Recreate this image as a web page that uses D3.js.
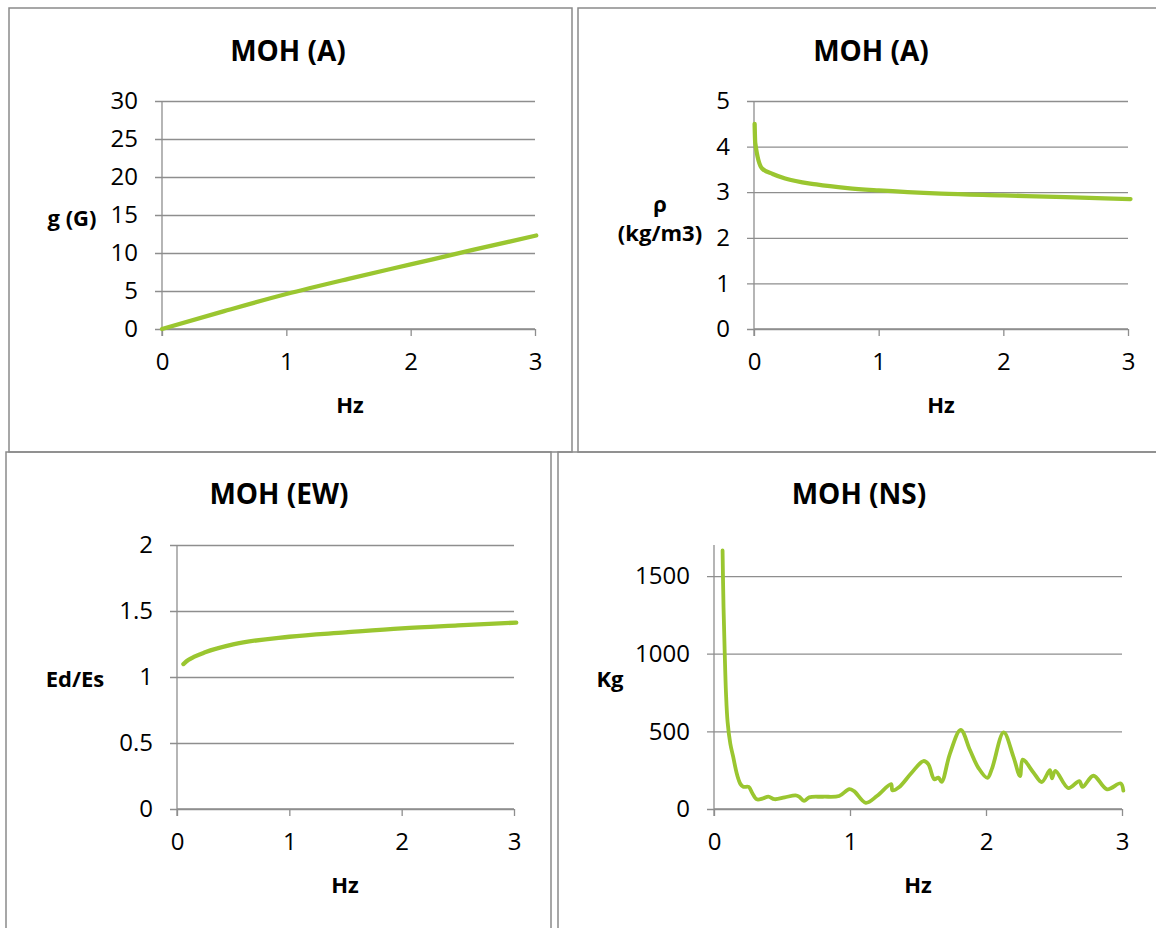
<!DOCTYPE html>
<html>
<head>
<meta charset="utf-8">
<script src="https://cdn.jsdelivr.net/npm/d3@7/dist/d3.min.js"></script>
<style>
  html, body { margin: 0; padding: 0; background: #fff; }
  svg { display: block; font-family: "Open Sans", "Lato", sans-serif; }
</style>
</head>
<body>
<svg id="chart" width="1156" height="928"></svg>
<script>
// ---------- DATA ----------
const xTicks = [0, 1, 2, 3];

// Panel 1: MOH (A), g (G) vs Hz
const gHz  = [0, 0.5, 1, 1.5, 2, 2.5, 3.01];
const gVal = [0, 2.35, 4.6, 6.6, 8.5, 10.4, 12.3];
const gTicks = [0, 5, 10, 15, 20, 25, 30];

// Panel 2: MOH (A), rho vs Hz
const rhoHz  = [0.005, 0.01, 0.065, 0.15, 0.25, 0.5, 0.75, 1, 1.5, 2, 2.5, 3.02];
const rhoVal = [4.5, 4.08, 3.52, 3.4, 3.3, 3.17, 3.09, 3.04, 2.97, 2.93, 2.89, 2.85];
const rhoTicks = [0, 1, 2, 3, 4, 5];

// Panel 3: MOH (EW), Ed/Es vs Hz
const edHz  = [0.057, 0.1, 0.15, 0.25, 0.5, 1, 1.5, 2, 2.5, 3.02];
const edVal = [1.098, 1.128, 1.152, 1.187, 1.247, 1.305, 1.338, 1.369, 1.391, 1.412];
const edTicks = [0, 0.5, 1, 1.5, 2];

// Panel 4: MOH (NS), Kg vs Hz
const nsHz  = [0.063, 0.07, 0.079, 0.088, 0.10, 0.12, 0.14, 0.17, 0.195, 0.215, 0.255, 0.28, 0.315, 0.36, 0.40, 0.445,
               0.52, 0.60, 0.625, 0.662, 0.70, 0.80, 0.92, 0.995, 1.03, 1.116, 1.2, 1.302, 1.312, 1.36, 1.45,
               1.54, 1.575, 1.62, 1.65, 1.674, 1.735, 1.814, 1.882, 1.944, 2.01, 2.044, 2.13, 2.2, 2.25, 2.27,
               2.35, 2.41, 2.47, 2.485, 2.51, 2.605, 2.686, 2.71, 2.79, 2.89, 2.99, 3.01];
const nsVal = [1665, 1300, 1000, 750, 560, 420, 340, 220, 160, 143, 142, 105, 62, 68, 80, 63,
               75, 88, 80, 52, 75, 79, 84, 128, 115, 40, 85, 160, 120, 140, 230,
               309, 290, 192, 202, 175, 357, 510, 380, 265, 200, 260, 493, 341, 212, 318,
               234, 174, 250, 198, 246, 135, 180, 142, 214, 127, 165, 118];
const nsTicks = [0, 500, 1000, 1500];

const titles = ["MOH (A)", "MOH (A)", "MOH (EW)", "MOH (NS)"];

// ---------- LAYOUT ----------
const GREEN = "#9AC630";
const GRID = "#8e8e8e";
const BORDER = "#8a8a8a";

const panels = [
  { box: [9, 8, 572, 452], plot: { l: 162, r: 535, t: 101, b: 329 }, ymax: 30, yTicks: gTicks,
    xs: gHz, ys: gVal, title: titles[0], titleX: 288, titleY: 50, ylab: ["g (G)"], ylabX: 72, ylabY: 217,
    hzX: 350, hzY: 404, curve: d3.curveMonotoneX, lw: 4.3 },
  { box: [578, 8, 1170, 452], plot: { l: 754, r: 1128, t: 101, b: 329 }, ymax: 5, yTicks: rhoTicks,
    xs: rhoHz, ys: rhoVal, title: titles[1], titleX: 871, titleY: 50, ylab: ["\u03C1", "(kg/m3)"], ylabX: 660, ylabY: 203,
    hzX: 941, hzY: 404, curve: d3.curveMonotoneX, lw: 4.3 },
  { box: [6, 452, 551, 940], plot: { l: 177, r: 514, t: 545, b: 809 }, ymax: 2, yTicks: edTicks,
    xs: edHz, ys: edVal, title: titles[2], titleX: 279, titleY: 493, ylab: ["Ed/Es"], ylabX: 75, ylabY: 678,
    hzX: 345, hzY: 884, curve: d3.curveMonotoneX, lw: 4.3 },
  { box: [558, 452, 1170, 940], plot: { l: 714, r: 1122, t: 545, b: 809 }, ymax: 1700, yTicks: nsTicks,
    xs: nsHz, ys: nsVal, title: titles[3], titleX: 859, titleY: 493, ylab: ["Kg"], ylabX: 610, ylabY: 678,
    hzX: 918, hzY: 884, curve: d3.curveCatmullRom.alpha(0.5), lw: 3.8 }
];

const svg = d3.select("#chart");
const numFmt = d => String(d);

panels.forEach(p => {
  const g = svg.append("g");
  const [x0, y0, x1, y1] = p.box;
  g.append("rect").attr("x", x0).attr("y", y0).attr("width", x1 - x0).attr("height", y1 - y0)
    .attr("fill", "none").attr("stroke", BORDER).attr("stroke-width", 1.5);

  const x = d3.scaleLinear().domain([0, 3]).range([p.plot.l, p.plot.r]);
  const y = d3.scaleLinear().domain([0, p.ymax]).range([p.plot.b, p.plot.t]);

  // gridlines spanning from l-7 to r
  const gridG = g.append("g").attr("transform", `translate(${p.plot.l - 7},0)`)
    .call(d3.axisLeft(y).tickValues(p.yTicks).tickSize(-(p.plot.r - p.plot.l + 7)).tickFormat(""));
  gridG.select(".domain").remove();
  gridG.selectAll("line").attr("stroke", GRID).attr("stroke-width", 1.3);

  // y tick labels
  const yLab = g.append("g").attr("transform", `translate(${p.plot.l},0)`)
    .call(d3.axisLeft(y).tickValues(p.yTicks).tickSize(0).tickPadding(24).tickFormat(numFmt));
  yLab.select(".domain").remove();
  yLab.selectAll("text").attr("font-size", 24).attr("fill", "#000").attr("font-family", "Open Sans");

  // y axis line
  g.append("line").attr("x1", p.plot.l).attr("x2", p.plot.l).attr("y1", p.plot.t).attr("y2", p.plot.b + 7)
    .attr("stroke", GRID).attr("stroke-width", 1.3);

  // x axis
  const xa = g.append("g").attr("transform", `translate(0,${p.plot.b})`)
    .call(d3.axisBottom(x).tickValues(xTicks).tickSize(7).tickPadding(17).tickFormat(numFmt));
  xa.select(".domain").attr("stroke", GRID).attr("stroke-width", 1.3).attr("d", `M${p.plot.l},0H${p.plot.r}`);
  xa.selectAll("line").attr("stroke", GRID).attr("stroke-width", 1.3);
  xa.selectAll("text").attr("font-size", 24).attr("fill", "#000").attr("font-family", "Open Sans");

  // series
  const pts = p.xs.map((d, i) => [d, p.ys[i]]);
  g.append("path").datum(pts)
    .attr("fill", "none").attr("stroke", GREEN).attr("stroke-width", p.lw)
    .attr("stroke-linejoin", "round").attr("stroke-linecap", "round")
    .attr("d", d3.line().x(d => x(d[0])).y(d => y(d[1])).curve(p.curve));

  // title
  g.append("text").attr("x", p.titleX).attr("y", p.titleY).attr("text-anchor", "middle")
    .attr("dominant-baseline", "central").attr("font-size", 28).attr("font-weight", "bold").text(p.title);

  // axis titles
  const yl = g.append("text").attr("x", p.ylabX).attr("y", p.ylabY).attr("text-anchor", "middle")
    .attr("dominant-baseline", "central").attr("font-size", 22).attr("font-weight", "bold");
  p.ylab.forEach((t, i) => yl.append("tspan").attr("x", p.ylabX).attr("dy", i === 0 ? 0 : 29).text(t));

  g.append("text").attr("x", p.hzX).attr("y", p.hzY).attr("text-anchor", "middle")
    .attr("dominant-baseline", "central").attr("font-size", 22).attr("font-weight", "bold").text("Hz");
});
</script>
</body>
</html>
